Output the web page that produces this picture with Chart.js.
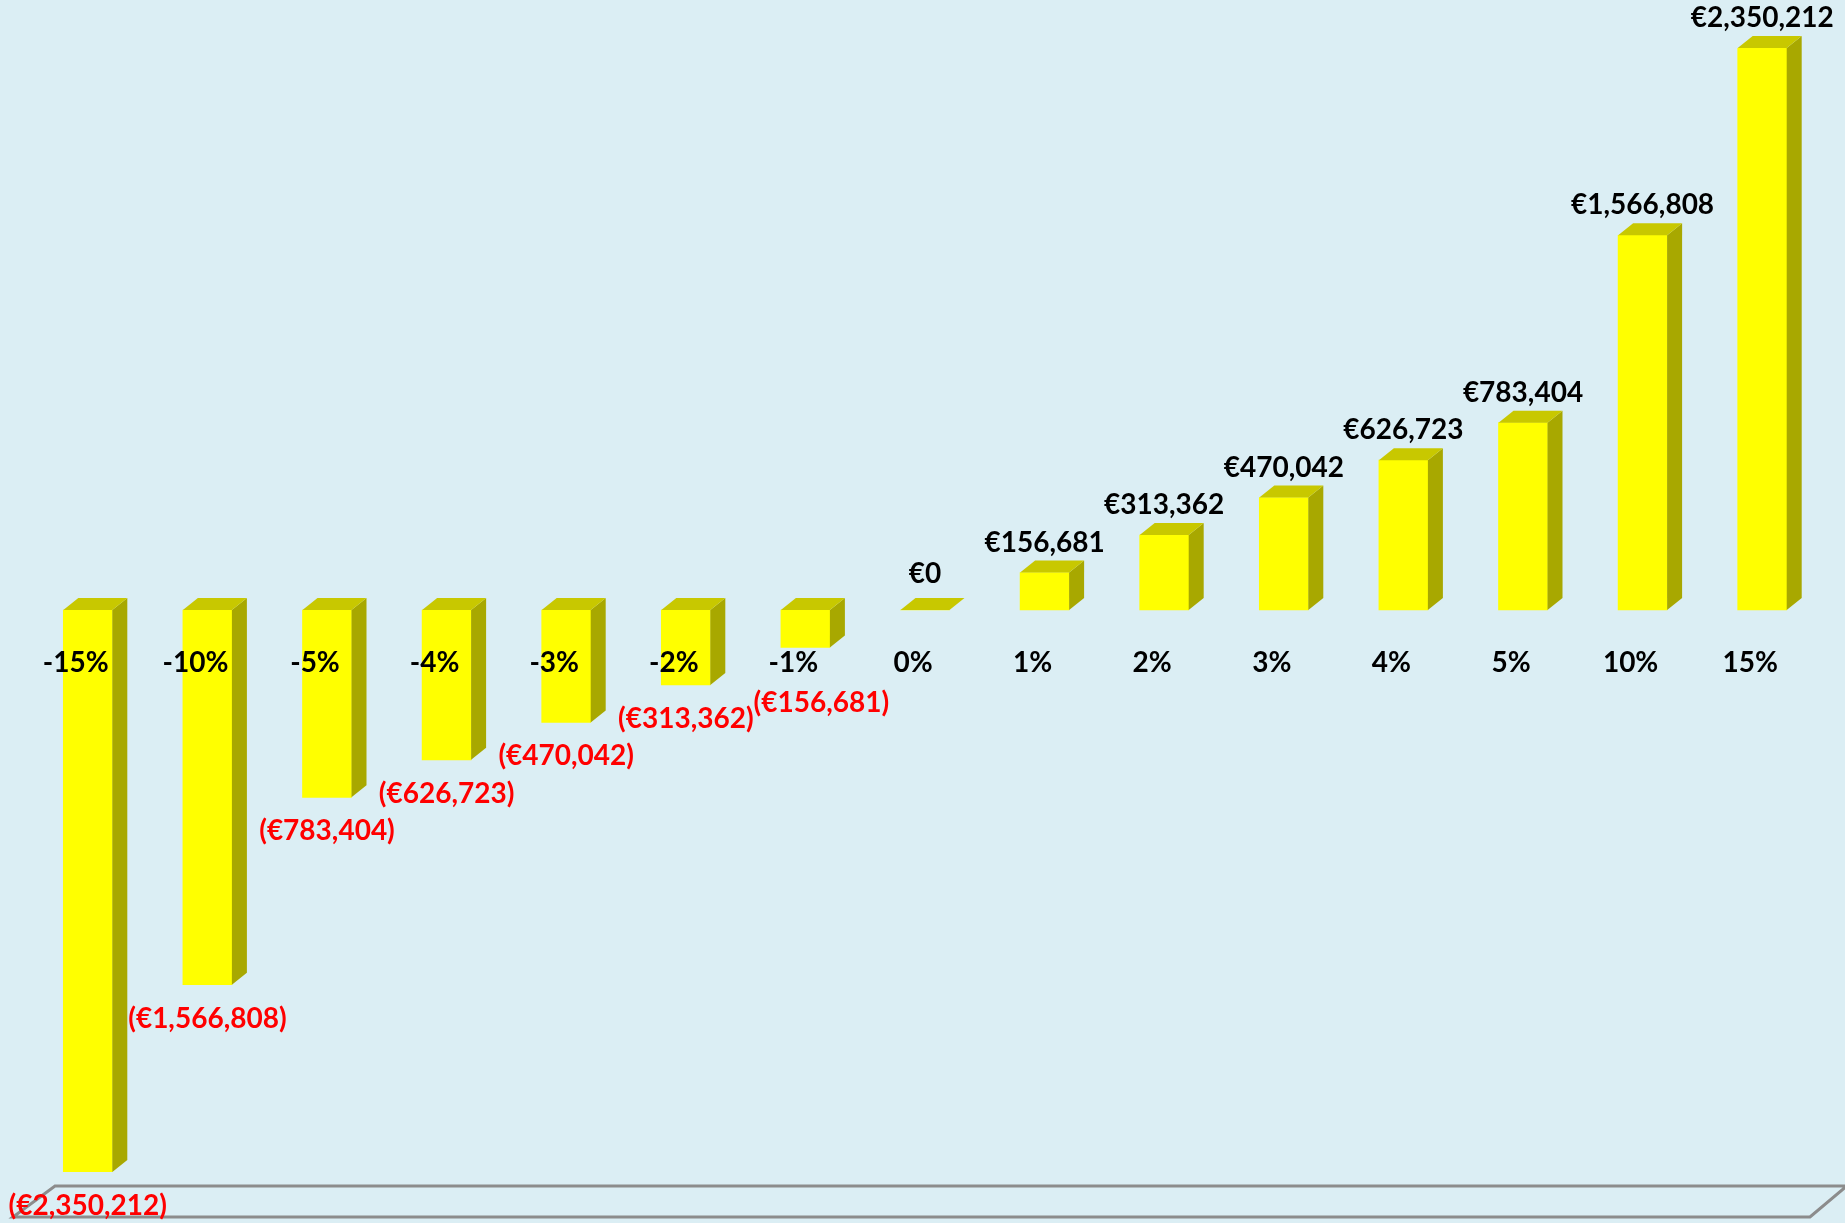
<!DOCTYPE html>
<html>
<head>
<meta charset="utf-8">
<script src="https://cdn.jsdelivr.net/npm/chart.js@4.4.1/dist/chart.umd.min.js"></script>
<style>
  html, body { margin: 0; padding: 0; background: #dbeef4; }
  #wrap { width: 1845px; height: 1223px; position: relative; }
</style>
</head>
<body>
<div id="wrap"><canvas id="chart"></canvas></div>
<script>
const categories = ['-15%', '-10%', '-5%', '-4%', '-3%', '-2%', '-1%', '0%', '1%', '2%', '3%', '4%', '5%', '10%', '15%'];
const values = [-2350212, -1566808, -783404, -626723, -470042, -313362, -156681, 0, 156681, 313362, 470042, 626723, 783404, 1566808, 2350212];
const axisMax = 2350212;

const FRONT = '#ffff00', SIDE = '#a8a800', TOP = '#c8c800';
const DX = 15, DY = 12;
const FONT = 'bold 28px Lato, "Open Sans", sans-serif';

function money(v) {
  const s = '€' + Math.abs(v).toLocaleString('en-US');
  return v < 0 ? '(' + s + ')' : s;
}

const bars3d = {
  id: 'bars3d',
  beforeDatasetsDraw(chart) {
    // grey floor under the bars
    const ctx = chart.ctx;
    const b = chart.chartArea.bottom;
    ctx.save();
    ctx.strokeStyle = '#8c8c8c';
    ctx.lineWidth = 3;
    ctx.beginPath();
    ctx.moveTo(1850, b + 14);
    ctx.lineTo(55, b + 14);
    ctx.lineTo(13, b + 45);
    ctx.lineTo(1810, b + 45);
    ctx.lineTo(1848, b + 13);
    ctx.stroke();
    ctx.restore();
  },
  afterDatasetsDraw(chart) {
    const ctx = chart.ctx;
    const meta = chart.getDatasetMeta(0);
    const zeroY = chart.scales.y.getPixelForValue(0);
    const catY = zeroY + 53;
    ctx.save();
    meta.data.forEach((bar, i) => {
      const w = bar.width;
      const l = bar.x - w / 2, r = bar.x + w / 2;
      const top = Math.min(bar.y, bar.base), bot = Math.max(bar.y, bar.base);
      // side face
      ctx.fillStyle = SIDE;
      ctx.beginPath();
      ctx.moveTo(r, top);
      ctx.lineTo(r + DX, top - DY);
      ctx.lineTo(r + DX, bot - DY);
      ctx.lineTo(r, bot);
      ctx.closePath();
      ctx.fill();
      // top face
      ctx.fillStyle = TOP;
      ctx.beginPath();
      ctx.moveTo(l, top);
      ctx.lineTo(l + DX, top - DY);
      ctx.lineTo(r + DX, top - DY);
      ctx.lineTo(r, top);
      ctx.closePath();
      ctx.fill();
    });

    ctx.font = FONT;
    ctx.textAlign = 'center';
    ctx.textBaseline = 'middle';
    meta.data.forEach((bar, i) => {
      const v = values[i];
      // category label
      ctx.fillStyle = '#000';
      ctx.fillText(categories[i], bar.x - 12, catY);
      // value label
      const top = Math.min(bar.y, bar.base), bot = Math.max(bar.y, bar.base);
      if (v >= 0) {
        ctx.fillStyle = '#000';
        ctx.fillText(money(v), bar.x, top - (v === 0 ? 36 : 30));
      } else {
        let x = bar.x, y = bot + 34;
        if (y - catY < 40) { y = catY + 40; x += 16; }
        ctx.fillStyle = '#ff0000';
        ctx.fillText(money(v), x, y);
      }
    });
    ctx.restore();
  }
};

new Chart(document.getElementById('chart'), {
  type: 'bar',
  data: {
    labels: categories,
    datasets: [{
      data: values,
      backgroundColor: FRONT,
      borderWidth: 0,
      barThickness: 49
    }]
  },
  options: {
    responsive: true,
    maintainAspectRatio: false,
    animation: false,
    layout: { padding: { top: 48, bottom: 51, left: 28, right: 23 } },
    plugins: { legend: { display: false }, tooltip: { enabled: false } },
    scales: {
      x: { display: false, offset: true },
      y: { display: false, min: -axisMax, max: axisMax }
    }
  },
  plugins: [bars3d]
});
</script>
</body>
</html>
